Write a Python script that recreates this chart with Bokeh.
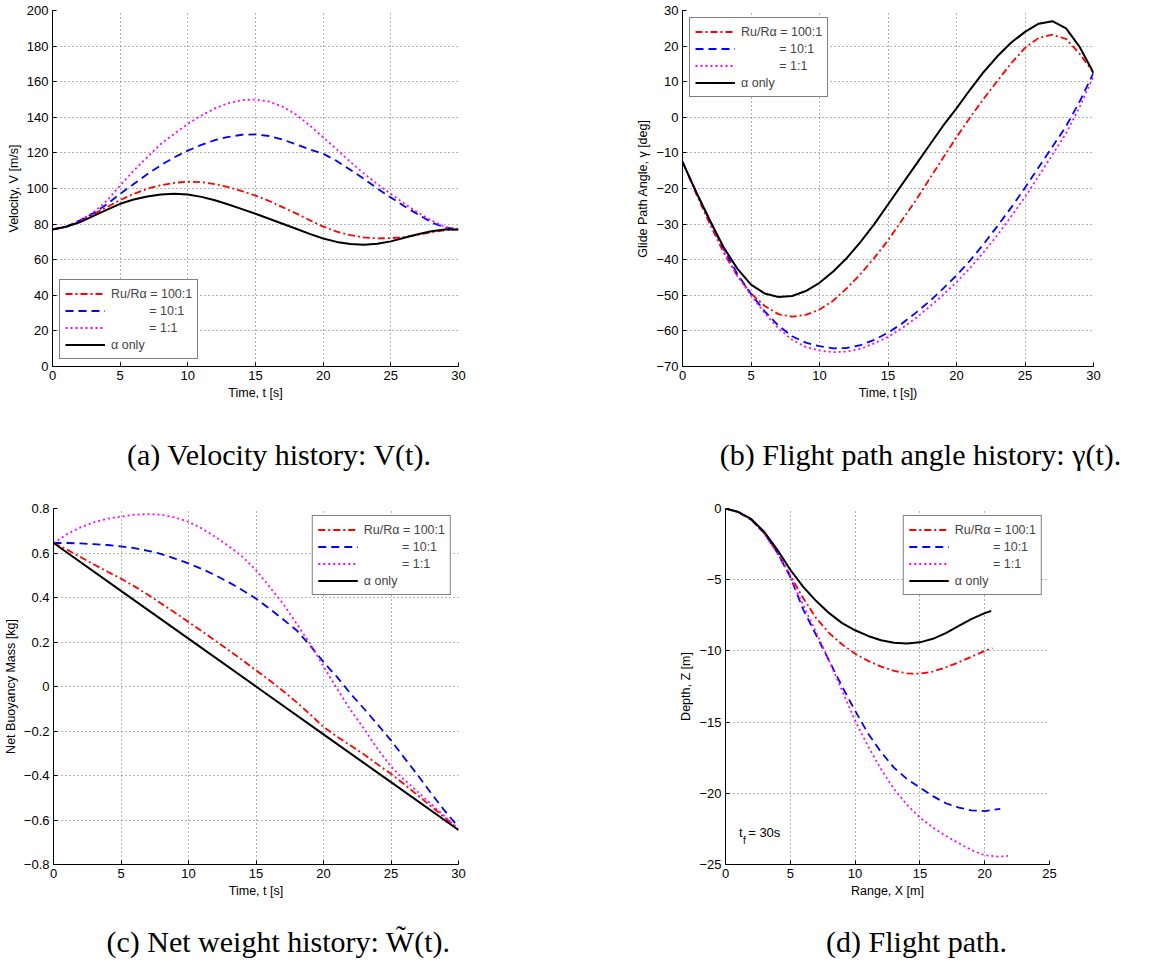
from bokeh.plotting import figure
from bokeh.models import FixedTicker, Label, Range1d
from bokeh.layouts import column, row
from bokeh.embed import file_html
from bokeh.resources import INLINE

# ---------------- data ----------------
t = list(range(31))

# (a) velocity [m/s]
v_100 = [77, 78.5, 81.5, 85.5, 89.5, 93.5, 97, 99.8, 101.8, 103.2, 103.8, 103.6, 102.5, 100.8, 98.5, 96,
         93, 89.5, 86, 82.2, 78.6, 75.8, 73.8, 72.5, 72, 72.1, 72.8, 74, 75.4, 76.5, 77]
v_10 = [77, 78.5, 82, 86, 91, 97, 102.5, 108, 113, 117.5, 121.3, 124.5, 127.2, 129, 130.2, 130.4,
        129.5, 127.5, 124.8, 122, 119.5, 115.5, 110.5, 105.5, 100, 95, 90, 85.5, 81, 78, 77]
v_1 = [77, 78.5, 82, 86.5, 93, 101.7, 110, 117.6, 125, 130.7, 136.3, 141, 145, 148, 149.7, 150,
       148.8, 146, 141.5, 135.5, 128.8, 122, 115, 108.5, 102.5, 97, 91.5, 86.5, 82, 78.5, 77]
v_a = [77, 78.5, 81, 84.5, 88, 91.4, 93.8, 95.5, 96.6, 97, 96.6, 95.3, 93.4, 91, 88.4, 85.8,
       83, 80.2, 77.4, 74.5, 71.9, 70, 68.8, 68.4, 68.9, 70.3, 72.3, 74.3, 76, 77, 77]

# (b) glide path angle [deg]
g_100 = [-12.5, -21.5, -30, -38, -44.5, -49.5, -53, -55.3, -56, -55.5, -54, -51.5, -48, -44, -39.5, -34.6,
         -29, -23.5, -17.5, -11.5, -5.6, 0, 5.3, 10.3, 15.2, 19.5, 22.3, 23.2, 22, 17.8, 12.5]
g_10 = [-12.5, -21, -29, -37, -44, -49.6, -54.5, -58.5, -61.5, -63.3, -64.3, -64.9, -64.8, -64, -62.5, -60.5,
        -58, -55, -51.8, -48.2, -44.4, -40.2, -35.5, -30.5, -25.3, -19.8, -14, -8.3, -2.5, 4.5, 12.5]
g_1 = [-12.5, -21, -29.5, -37.5, -44.5, -50, -55, -59.3, -62.5, -64.5, -65.5, -66, -65.8, -65, -63.5, -61.7,
       -59.3, -56.5, -53.3, -50, -46.3, -42.3, -37.8, -33, -27.8, -22.4, -16.5, -10.5, -4.5, 3, 11.5]
g_a = [-12.5, -21, -29, -36.5, -42.5, -47, -49.5, -50.5, -50.2, -48.8, -46.5, -43.3, -39.5, -35, -30, -24.5,
       -19, -13.5, -8, -2.5, 2.5, 7.8, 12.8, 17.2, 21, 24, 26.3, 27, 25, 19.7, 12.5]

# (c) net buoyancy mass [kg]
w_100 = [0.645, 0.615, 0.582, 0.548, 0.516, 0.485, 0.45, 0.412, 0.372, 0.332, 0.29, 0.248, 0.205, 0.162,
         0.118, 0.073, 0.028, -0.02, -0.07, -0.125, -0.182, -0.225, -0.265, -0.305, -0.35, -0.392,
         -0.44, -0.49, -0.54, -0.59, -0.645]
w_10 = [0.645, 0.645, 0.643, 0.64, 0.636, 0.63, 0.622, 0.61, 0.595, 0.575, 0.553, 0.528, 0.5, 0.468,
        0.433, 0.395, 0.35, 0.302, 0.253, 0.185, 0.11, 0.043, -0.032, -0.1, -0.17, -0.242, -0.322,
        -0.4, -0.482, -0.56, -0.632]
w_1 = [0.645, 0.685, 0.715, 0.738, 0.754, 0.764, 0.772, 0.775, 0.772, 0.76, 0.74, 0.71, 0.672, 0.63,
       0.583, 0.523, 0.448, 0.373, 0.283, 0.193, 0.09, -0.01, -0.105, -0.19, -0.28, -0.36, -0.42,
       -0.475, -0.53, -0.585, -0.64]
t_a = [0, 5, 10, 15, 20, 25, 30]
w_a = [0.645, 0.43, 0.215, 0.0, -0.215, -0.43, -0.645]

# (d) flight path: range X [m], depth Z [m]
x_100 = [0, 1, 2, 3, 4, 5, 6, 7, 8, 9, 10, 11, 12, 13, 14, 15, 16, 17, 18, 19, 20, 20.6]
z_100 = [0, -0.25, -0.8, -1.75, -3.1, -4.7, -6.3, -7.7, -8.75, -9.55, -10.2, -10.7, -11.1, -11.4,
         -11.58, -11.6, -11.45, -11.15, -10.8, -10.4, -10.0, -9.8]
x_10 = [0, 1, 2, 3, 4, 5, 6, 7, 8, 9, 10, 11, 12, 13, 14, 15, 16, 17, 18, 19, 20, 21.2]
z_10 = [0, -0.25, -0.8, -1.75, -3.1, -4.8, -7.1, -8.9, -10.7, -12.5, -14.2, -15.8, -17.1, -18.2,
        -19.0, -19.6, -20.2, -20.7, -21.0, -21.2, -21.25, -21.1]
x_1 = [0, 1, 2, 3, 4, 5, 6, 7, 8, 9, 10, 11, 12, 13, 14, 15, 16, 17, 18, 19, 20, 21, 21.8]
z_1 = [0, -0.25, -0.8, -1.75, -3.1, -4.8, -6.8, -8.7, -10.7, -12.8, -14.9, -16.7, -18.3, -19.7,
       -20.8, -21.7, -22.4, -23.0, -23.5, -24.0, -24.35, -24.45, -24.4]
x_a = [0, 1, 2, 3, 4, 5, 6, 7, 8, 9, 10, 11, 12, 13, 14, 15, 16, 17, 18, 19, 20, 20.5]
z_a = [0, -0.25, -0.75, -1.65, -2.9, -4.3, -5.5, -6.5, -7.35, -8.05, -8.55, -8.95, -9.25, -9.43,
       -9.48, -9.4, -9.15, -8.75, -8.25, -7.75, -7.35, -7.2]

NB = "\u00a0"
labels = ["Ru/R\u03b1 = 100:1", NB * 11 + "= 10:1", NB * 11 + "= 1:1", "\u03b1 only"]

t_ticks = [0, 5, 10, 15, 20, 25, 30]
t_tick_labels = ["0", "5", "10", "15", "20", "25", "30"]
v_ticks = [0, 20, 40, 60, 80, 100, 120, 140, 160, 180, 200]
v_tick_labels = ["0", "20", "40", "60", "80", "100", "120", "140", "160", "180", "200"]
g_ticks = [-70, -60, -50, -40, -30, -20, -10, 0, 10, 20, 30]
g_tick_labels = ["\u221270", "\u221260", "\u221250", "\u221240", "\u221230", "\u221220", "\u221210",
                 "0", "10", "20", "30"]
w_ticks = [-0.8, -0.6, -0.4, -0.2, 0, 0.2, 0.4, 0.6, 0.8]
w_tick_labels = ["\u22120.8", "\u22120.6", "\u22120.4", "\u22120.2", "0", "0.2", "0.4", "0.6", "0.8"]
x_ticks = [0, 5, 10, 15, 20, 25]
x_tick_labels = ["0", "5", "10", "15", "20", "25"]
z_ticks = [-25, -20, -15, -10, -5, 0]
z_tick_labels = ["\u221225", "\u221220", "\u221215", "\u221210", "\u22125", "0"]

captions = ["(a) Velocity history: V(t).", "(b) Flight path angle history: \u03b3(t).",
            "(c) Net weight history: W\u0303(t).", "(d) Flight path."]

STYLES = [dict(color="#ff0000", line_width=1.8, line_dash="7 3 2 3"),
          dict(color="#0000ff", line_width=1.8, line_dash="8 5"),
          dict(color="#ff00ff", line_width=1.8, line_dash="2 3"),
          dict(color="#000000", line_width=2.0)]

SANS = "Liberation Sans"
SERIF = "Liberation Serif"


def make_fig(w, h, bl, br, bt, bb, xr, yr):
    p = figure(width=w, height=h, min_border_left=bl, min_border_right=br,
               min_border_top=bt, min_border_bottom=bb,
               x_range=Range1d(*xr), y_range=Range1d(*yr),
               output_backend="svg", toolbar_location=None, tools="")
    p.outline_line_color = None
    p.background_fill_color = "white"
    p.border_fill_color = "white"
    return p


def style(p, xt, xl, yt, yl, xlab, ylab):
    p.xaxis.ticker = FixedTicker(ticks=xt)
    p.xaxis.major_label_overrides = dict(zip(xt, xl))
    p.yaxis.ticker = FixedTicker(ticks=yt)
    p.yaxis.major_label_overrides = dict(zip(yt, yl))
    p.xaxis.axis_label = xlab
    p.yaxis.axis_label = ylab
    for ax in (p.xaxis[0], p.yaxis[0]):
        ax.axis_line_color = "black"
        ax.axis_line_width = 1
        ax.major_tick_in = 4
        ax.major_tick_out = 0
        ax.major_tick_line_color = "black"
        ax.minor_tick_line_color = None
        ax.major_label_text_font = SANS
        ax.major_label_text_font_size = "13px"
        ax.major_label_text_color = "black"
        ax.major_label_standoff = 4
        ax.axis_label_text_font = SANS
        ax.axis_label_text_font_size = "12.5px"
        ax.axis_label_text_font_style = "normal"
        ax.axis_label_text_color = "black"
        ax.axis_label_standoff = 3
    p.grid.grid_line_color = "#444444"
    p.grid.grid_line_dash = "1 3"
    p.grid.grid_line_alpha = 0.8
    p.grid.grid_line_width = 1


def add_lines(p, series, loc):
    for (xs, ys), lab, st in zip(series, labels, STYLES):
        p.line(xs, ys, legend_label=lab, **st)
    lg = p.legend[0]
    lg.location = loc
    lg.margin = 7
    lg.padding = 5
    lg.spacing = 0
    lg.glyph_width = 40
    lg.glyph_height = 17
    lg.label_height = 17
    lg.label_standoff = 6
    lg.label_text_font = SANS
    lg.label_text_font_size = "12.5px"
    lg.border_line_color = "black"
    lg.border_line_width = 1.2
    lg.background_fill_alpha = 1
    lg.background_fill_color = "white"


def caption_fig(w, h, text, cx, by):
    """Caption strip: a blank figure whose ranges equal its pixel size."""
    c = figure(width=w, height=h, x_range=Range1d(0, w), y_range=Range1d(0, h),
               min_border=0, x_axis_location=None, y_axis_location=None,
               output_backend="svg", toolbar_location=None, tools="")
    c.outline_line_color = None
    c.grid.visible = False
    c.add_layout(Label(x=cx, y=by, text=text, text_align="center", text_baseline="alphabetic",
                       text_font=SERIF, text_font_size="30px", text_color="black"))
    return c


# (a)
pa = make_fig(580, 410, 52, 122, 10, 44, (0, 30), (0, 200))
style(pa, t_ticks, t_tick_labels, v_ticks, v_tick_labels, "Time, t [s]", "Velocity, V [m/s]")
add_lines(pa, [(t, v_100), (t, v_10), (t, v_1), (t, v_a)], "bottom_left")

# (b)
pb = make_fig(573, 410, 102, 60, 10, 44, (0, 30), (-70, 30))
style(pb, t_ticks, t_tick_labels, g_ticks, g_tick_labels, "Time, t [s])", "Glide Path Angle, \u03b3 [deg]")
add_lines(pb, [(t, g_100), (t, g_10), (t, g_1), (t, g_a)], "top_left")

# (c)
pc = make_fig(580, 424, 52, 122, 28, 40, (0, 30), (-0.8, 0.8))
style(pc, t_ticks, t_tick_labels, w_ticks, w_tick_labels, "Time, t [s]", "Net Buoyancy Mass [kg]")
add_lines(pc, [(t, w_100), (t, w_10), (t, w_1), (t_a, w_a)], "top_right")

# (d)
pd_ = make_fig(573, 424, 145, 104, 28, 40, (0, 25), (-25, 0))
style(pd_, x_ticks, x_tick_labels, z_ticks, z_tick_labels, "Range, X [m]", "Depth, Z [m]")
add_lines(pd_, [(x_100, z_100), (x_10, z_10), (x_1, z_1), (x_a, z_a)], "top_right")
pd_.add_layout(Label(x=1.05, y=-22.75, text="t", text_baseline="middle",
                     text_font=SANS, text_font_size="13px", text_color="black"))
pd_.add_layout(Label(x=1.35, y=-23.3, text="f", text_baseline="middle",
                     text_font=SANS, text_font_size="10px", text_color="black"))
pd_.add_layout(Label(x=1.75, y=-22.75, text="= 30s", text_baseline="middle",
                     text_font=SANS, text_font_size="13px", text_color="black"))

cap_a = caption_fig(580, 70, captions[0], 279, 26)
cap_b = caption_fig(573, 70, captions[1], 340, 26)
cap_c = caption_fig(580, 54, captions[2], 278, 17)
cap_d = caption_fig(573, 54, captions[3], 336, 17)

layout = column(row(pa, pb), row(cap_a, cap_b), row(pc, pd_), row(cap_c, cap_d))
open("out.html", "w").write(file_html(layout, INLINE))
